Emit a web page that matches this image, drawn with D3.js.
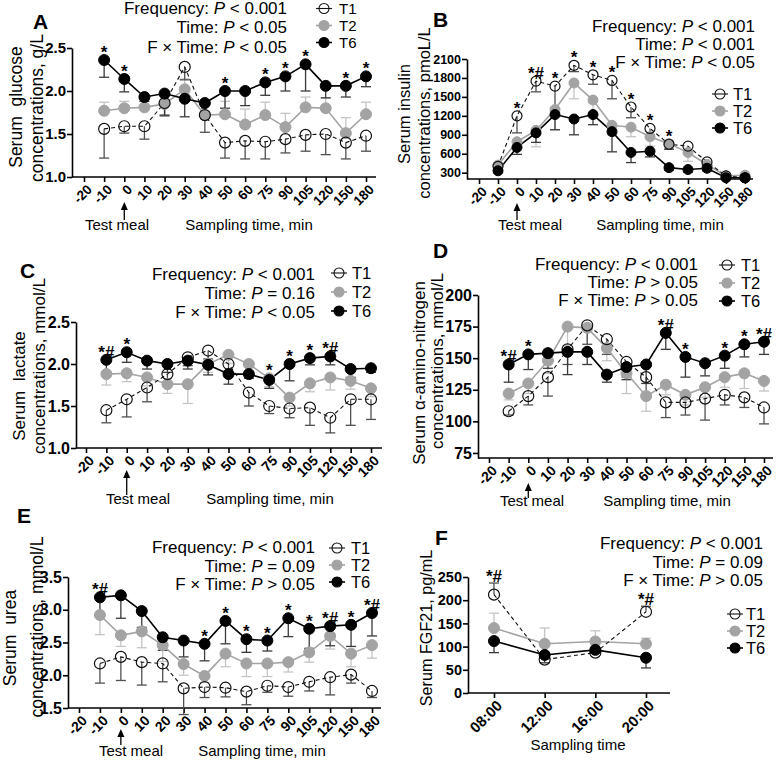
<!DOCTYPE html>
<html><head><meta charset="utf-8">
<script src="https://cdn.jsdelivr.net/npm/d3@7"></script>
<style>
body{margin:0;background:#fff;}
svg{font-family:"Liberation Sans",Arial,sans-serif;}
</style></head><body>
<script>
const FONT = '"Liberation Sans", Arial, sans-serif';
// ---------- categories ----------
const timeCategories = ["-20","-10","0","10","20","30","40","50","60","75","90","105","120","150","180"];
const sampleTimes = ["-10","0","10","20","30","40","50","60","75","90","105","120","150","180"];
const clockTimes = ["08:00","12:00","16:00","20:00"];
const seriesNames = ["T1","T2","T6"];

// ---------- A: glucose (g/L) ----------
const glucoseT1 = [1.56,1.59,1.59,1.86,2.28,1.72,1.40,1.42,1.41,1.44,1.49,1.50,1.40,1.48];
const glucoseT1Err = [0.34,0.08,0.15,0.15,0.15,0.20,0.18,0.21,0.20,0.16,0.19,0.24,0.19,0.18];
const glucoseT2 = [1.77,1.80,1.81,1.85,2.02,1.72,1.73,1.61,1.72,1.58,1.81,1.80,1.51,1.73];
const glucoseT2Err = [0.10,0.08,0.10,0.10,0.12,0.12,0.15,0.18,0.15,0.16,0.12,0.12,0.18,0.14];
const glucoseT6 = [2.36,2.14,1.93,1.97,1.91,1.86,2.00,2.00,2.10,2.17,2.31,2.06,2.06,2.17];
const glucoseT6Err = [0.20,0.15,0.05,0.25,0.21,0.10,0.20,0.17,0.15,0.17,0.31,0.14,0.13,0.12];
const glucoseTicks = [1.0,1.5,2.0,2.5];
const glucoseStars = [["-10","*"],["0","*"],["50","*"],["75","*"],["90","*"],["105","*"],["150","*"],["180","*"]];
const glucoseStats = [["Frequency","<","0.001"],["Time","<","0.05"],["F × Time","<","0.05"]];

// ---------- B: insulin (pmoL/L) ----------
const insulinT1 = [400,1200,1750,1670,2000,1850,1760,1340,1000,750,720,470,250,220];
const insulinT1Err = [50,270,170,380,100,150,290,170,100,80,80,60,30,20];
const insulinT2 = [420,790,970,1300,1720,1450,1050,1020,870,760,620,430,250,260];
const insulinT2Err = [40,100,260,320,250,200,150,150,150,80,140,100,30,20];
const insulinT6 = [330,700,930,1220,1150,1220,950,620,640,380,350,370,220,220];
const insulinT6Err = [30,110,150,240,250,160,320,160,90,40,40,40,20,20];
const insulinTicks = [300,600,900,1200,1500,1800,2100];
const insulinStars = [["0","*"],["10","*#"],["20","*"],["30","*"],["40","*"],["50","*"],["60","*"],["75","*"],["90","*"]];
const insulinStats = [["Frequency","<","0.001"],["Time","<","0.001"],["F × Time","<","0.05"]];

// ---------- C: lactate (mmol/L) ----------
const lactateT1 = [1.45,1.58,1.72,1.88,2.08,2.16,2.00,1.66,1.50,1.47,1.48,1.36,1.58,1.58];
const lactateT1Err = [0.15,0.21,0.17,0.10,0.10,0.10,0.12,0.16,0.09,0.11,0.21,0.18,0.31,0.24];
const lactateT2 = [1.88,1.89,1.84,1.76,1.76,2.00,2.11,2.00,1.83,1.60,1.77,1.84,1.80,1.71];
const lactateT2Err = [0.13,0.10,0.10,0.11,0.23,0.10,0.10,0.10,0.10,0.10,0.10,0.15,0.10,0.10];
const lactateT6 = [2.05,2.14,2.04,2.00,2.04,1.99,1.88,1.88,1.81,2.00,2.07,2.09,1.94,1.95];
const lactateT6Err = [0.15,0.12,0.10,0.10,0.10,0.12,0.12,0.05,0.10,0.20,0.08,0.10,0.10,0.05];
const lactateTicks = [1.0,1.5,2.0,2.5];
const lactateStars = [["-10","*#"],["0","*"],["75","*"],["90","*"],["105","*"],["120","*#"]];
const lactateStats = [["Frequency","<","0.001"],["Time","=","0.16"],["F × Time","<","0.05"]];

// ---------- D: alpha-amino-nitrogen (mmol/L) ----------
const aanT1 = [108,120,135,157,176,165,147,135,115,115,118,121,119,111];
const aanT1Err = [3,7,15,12,15,12,12,15,12,10,17,8,8,13];
const aanT2 = [122,130,148,175,174,158,138,120,129,121,127,135,138,132];
const aanT2Err = [5,8,10,15,20,10,16,12,8,8,8,8,12,8];
const aanT6 = [145,153,154,155,155,137,143,145,170,151,146,152,161,163];
const aanT6Err = [14,12,12,18,10,6,10,15,13,16,10,10,10,10];
const aanTicks = [75,100,125,150,175,200];
const aanStars = [["-10","*#"],["0","*"],["75","*#"],["90","*"],["120","*"],["150","*"],["180","*#"]];
const aanStats = [["Frequency","<","0.001"],["Time",">","0.05"],["F × Time",">","0.05"]];

// ---------- E: urea (mmol/L) ----------
const ureaT1 = [2.18,2.28,2.20,2.18,1.80,1.82,1.81,1.75,1.84,1.82,1.90,1.97,2.01,1.76];
const ureaT1Err = [0.30,0.36,0.35,0.28,0.40,0.16,0.14,0.20,0.10,0.14,0.14,0.27,0.13,0.10];
const ureaT2 = [2.92,2.61,2.67,2.46,2.17,1.99,2.33,2.18,2.18,2.20,2.35,2.60,2.33,2.46];
const ureaT2Err = [0.30,0.17,0.25,0.25,0.17,0.10,0.20,0.20,0.20,0.15,0.15,0.20,0.20,0.20];
const ureaT6 = [3.19,3.22,2.98,2.58,2.53,2.48,2.83,2.55,2.53,2.87,2.71,2.75,2.77,2.95];
const ureaT6Err = [0.30,0.35,0.25,0.20,0.25,0.26,0.35,0.20,0.16,0.28,0.30,0.30,0.33,0.35];
const ureaTicks = [1.5,2.0,2.5,3.0,3.5];
const ureaStars = [["-10","*#"],["40","*"],["50","*"],["60","*"],["75","*"],["90","*"],["105","*"],["120","*#"],["150","*"],["180","*#"]];
const ureaStats = [["Frequency","<","0.001"],["Time","=","0.09"],["F × Time",">","0.05"]];

// ---------- F: FGF21 (pg/mL) ----------
const fgfT1 = [212,72,87,175];
const fgfT1Err = [25,8,6,12];
const fgfT2 = [140,106,111,106];
const fgfT2Err = [32,34,23,12];
const fgfT6 = [112,82,93,76];
const fgfT6Err = [25,17,5,22];
const fgfTicks = [0,50,100,150,200,250];
const fgfStars = [["08:00","*#"],["20:00","*#"]];
const fgfStats = [["Frequency","<","0.001"],["Time","=","0.09"],["F × Time",">","0.05"]];

// ---------- styles ----------
const seriesStyle = [
  {stroke:"#111", fill:"none", lineW:1.1, dash:"4,3", errC:"#505050"},
  {stroke:"#a3a3a3", fill:"#a3a3a3", lineW:1.6, dash:null, errC:"#c4c4c4"},
  {stroke:"#000", fill:"#000", lineW:1.6, dash:null, errC:"#3a3a3a"}
];

const panels = [
  {letter:"A", lp:[33,29], cats:timeCategories, pts:sampleTimes, dom:[1.0,2.5], ticks:glucoseTicks, fmt:".1f",
   b:{ax:72, x0:84, x1:366, xe:376, yt:48, yb:177}, vals:[glucoseT1,glucoseT2,glucoseT6], errs:[glucoseT1Err,glucoseT2Err,glucoseT6Err], dir:[-1,1,-1],
   stars:glucoseStars, stats:glucoseStats, sx:287, sy:[14,33,53], lg:{x:324, tx:339, ys:[8.5,25.5,42.5], fs:15},
   yl:["Serum  glucose","concentrations, g/L"], ylx:[22,43], yly:[107,108], yls:17.5, yts:15, xts:13.5,
   meal:[117,230], samp:[249,230], samplingText:"Sampling time, min", arrow:[220,202], r:5.5},
  {letter:"B", lp:[433,27], cats:timeCategories, pts:sampleTimes, dom:[200,2100], ticks:insulinTicks, fmt:"d",
   b:{ax:467, x0:479, x1:745, xe:753, yt:59, yb:179}, vals:[insulinT1,insulinT2,insulinT6], errs:[insulinT1Err,insulinT2Err,insulinT6Err], dir:[-1,-1,-1],
   stars:insulinStars, stats:insulinStats, sx:755, sy:[32,50,68], lg:{x:720, tx:733, ys:[94,111,128], fs:16.5},
   yl:["Serum insulin","concentrations, pmoL/L"], ylx:[410,430], yly:[114,113], yls:16.5, yts:12.5, xts:13.5,
   meal:[530,230], samp:[660,230], samplingText:"Sampling time, min", arrow:[220,203], r:5},
  {letter:"C", lp:[20,278], cats:timeCategories, pts:sampleTimes, dom:[1.0,2.5], ticks:lactateTicks, fmt:".1f",
   b:{ax:76, x0:86, x1:371, xe:382, yt:322, yb:448}, vals:[lactateT1,lactateT2,lactateT6], errs:[lactateT1Err,lactateT2Err,lactateT6Err], dir:[-1,-1,-1],
   stars:lactateStars, stats:lactateStats, sx:315, sy:[280,299,318], lg:{x:339, tx:352, ys:[273,292,311], fs:16.5},
   yl:["Serum  lactate","concentrations, mmol/L"], ylx:[25,45], yly:[386,366], yls:17, yts:16, xts:14,
   meal:[138,504], samp:[270,504], samplingText:"Sampling time, min", arrow:[495,470], r:5.5},
  {letter:"D", lp:[433,258], cats:timeCategories, pts:sampleTimes, dom:[71,200], ticks:aanTicks, fmt:"d",
   b:{ax:478, x0:489, x1:764, xe:773, yt:295, yb:458}, vals:[aanT1,aanT2,aanT6], errs:[aanT1Err,aanT2Err,aanT6Err], dir:[-1,-1,-1],
   stars:aanStars, stats:aanStats, sx:698, sy:[270,288,306], lg:{x:727, tx:741, ys:[265,283,301], fs:16.5},
   yl:["Serum α-amino-nitrogen","concentrations, mmol/L"], ylx:[425,443], yly:[373,361], yls:17, yts:16, xts:14,
   meal:[532,506], samp:[667,506], samplingText:"Sampling time, min", arrow:[498,483], r:5.5},
  {letter:"E", lp:[17,523], cats:timeCategories, pts:sampleTimes, dom:[1.5,3.5], ticks:ureaTicks, fmt:".1f",
   b:{ax:68, x0:79, x1:372, xe:381, yt:577, yb:708}, vals:[ureaT1,ureaT2,ureaT6], errs:[ureaT1Err,ureaT2Err,ureaT6Err], dir:[-1,-1,-1],
   stars:ureaStars, stats:ureaStats, sx:315, sy:[553,572,590], lg:{x:337, tx:351, ys:[548,565,582], fs:16.5},
   yl:["Serum  urea","concentrations, mmol/L"], ylx:[16,43], yly:[638,627], yls:17.5, yts:16, xts:14,
   meal:[131,756], samp:[262,756], samplingText:"Sampling time, min", arrow:[745,729], r:5.5},
  {letter:"F", lp:[435,545], cats:clockTimes, pts:clockTimes, dom:[0,250], ticks:fgfTicks, fmt:"d",
   b:{ax:468, x0:494, x1:646, xe:670, yt:577, yb:693}, vals:[fgfT1,fgfT2,fgfT6], errs:[fgfT1Err,fgfT2Err,fgfT6Err], dir:[1,1,-1],
   stars:fgfStars, stats:fgfStats, sx:763, sy:[549,568,586], lg:{x:735, tx:746, ys:[614,631,648], fs:16.5},
   yl:["Serum FGF21, pg/mL"], ylx:[432], yly:[628], yls:16.2, yts:14.5, xts:15,
   meal:null, samp:[578,750], samplingText:"Sampling time", arrow:null, r:5.5}
];

const svg = d3.select("body").append("svg").attr("width",778).attr("height",762)
  .attr("font-family",FONT);

function drawPanel(p){
  const g = svg.append("g");
  const x = d3.scalePoint().domain(p.cats).range([p.b.x0, p.b.x1]);
  const y = d3.scaleLinear().domain(p.dom).range([p.b.yb, p.b.yt]);

  // y axis
  const ya = g.append("g").attr("transform",`translate(${p.b.ax},0)`)
    .call(d3.axisLeft(y).tickValues(p.ticks).tickFormat(d3.format(p.fmt)).tickSize(5).tickSizeOuter(0).tickPadding(1))
    .attr("font-family",null).attr("font-size",null);
  ya.select(".domain").attr("stroke","#000").attr("stroke-width",1.6);
  ya.selectAll(".tick line").attr("stroke","#000").attr("stroke-width",1.6);
  ya.selectAll(".tick text").attr("font-size",p.yts).attr("font-weight","bold").attr("fill","#000");

  // x axis
  const xa = g.append("g").attr("transform",`translate(0,${p.b.yb})`)
    .call(d3.axisBottom(x).tickSize(5).tickSizeOuter(0))
    .attr("font-family",null).attr("font-size",null);
  xa.select(".domain").remove();
  xa.append("line").attr("x1",p.b.ax).attr("x2",p.b.xe).attr("stroke","#000").attr("stroke-width",1.6);
  xa.selectAll(".tick line").attr("stroke","#000").attr("stroke-width",1.6);
  xa.selectAll(".tick text").attr("y",0).attr("dy","0.35em").attr("text-anchor","end")
    .attr("transform","translate(5,10) rotate(-45)")
    .attr("font-size",p.xts).attr("font-weight","bold").attr("fill","#000");

  // series data
  const series = p.vals.map((vals,k)=>vals.map((v,i)=>({t:p.pts[i], v, e:p.errs[k][i], d:p.dir[k]})));
  const order = [1,0,2];

  // error bars
  order.forEach(k=>{
    const st = seriesStyle[k];
    const eg = g.append("g").attr("stroke",st.errC).attr("stroke-width",1.3);
    series[k].forEach(d=>{
      const y0 = y(d.v), y1 = y(d.v + d.d*d.e), cx = x(d.t);
      eg.append("line").attr("x1",cx).attr("x2",cx).attr("y1",y0).attr("y2",y1);
      eg.append("line").attr("x1",cx-5).attr("x2",cx+5).attr("y1",y1).attr("y2",y1);
    });
  });
  // lines
  const line = d3.line().x(d=>x(d.t)).y(d=>y(d.v));
  order.forEach(k=>{
    const st = seriesStyle[k];
    g.append("path").datum(series[k]).attr("d",line).attr("fill","none")
      .attr("stroke",st.stroke).attr("stroke-width",st.lineW).attr("stroke-dasharray",st.dash);
  });
  // markers
  order.forEach(k=>{
    const st = seriesStyle[k];
    g.append("g").selectAll("circle").data(series[k]).join("circle")
      .attr("cx",d=>x(d.t)).attr("cy",d=>y(d.v)).attr("r",p.r)
      .attr("fill",st.fill).attr("stroke",k===0?"#111":st.stroke).attr("stroke-width",k===0?1.2:1);
  });

  // stars
  p.stars.forEach(([t,lab])=>{
    let top = Infinity;
    series.forEach(s=>{
      const d = s.find(q=>q.t===t);
      top = Math.min(top, y(d.v)-2);
      if (d.d>0) top = Math.min(top, y(d.v+d.e)-1);
    });
    g.append("text").attr("x",x(t)).attr("y",top).attr("text-anchor","middle")
      .attr("font-size",17).attr("font-weight","bold").attr("fill","#000").text(lab);
  });

  // stats
  p.stats.forEach(([lab,op,val],i)=>{
    const t = g.append("text").attr("x",p.sx).attr("y",p.sy[i]).attr("text-anchor","end").attr("font-size",17).attr("fill","#000");
    t.append("tspan").text(lab+": ");
    t.append("tspan").attr("font-style","italic").text("P");
    t.append("tspan").text(" "+op+" "+val);
  });

  // legend
  seriesNames.forEach((nm,k)=>{
    const st = seriesStyle[k];
    const ly = p.lg.ys[k];
    g.append("line").attr("x1",p.lg.x-8).attr("x2",p.lg.x+8).attr("y1",ly).attr("y2",ly)
      .attr("stroke",k===0?"#111":st.stroke).attr("stroke-width",k===0?1.1:1.6);
    g.append("circle").attr("cx",p.lg.x).attr("cy",ly).attr("r",5)
      .attr("fill",k===0?"#fff":st.fill).attr("fill-opacity",k===0?0:1).attr("stroke",k===0?"#111":st.stroke).attr("stroke-width",1.1);
    g.append("text").attr("x",p.lg.tx).attr("y",ly).attr("dy","0.36em").attr("font-size",p.lg.fs).attr("fill","#000").text(nm);
  });

  // panel letter
  g.append("text").attr("x",p.lp[0]).attr("y",p.lp[1]).attr("font-size",21).attr("font-weight","bold").attr("fill","#000").text(p.letter);

  // y label
  p.yl.forEach((line,i)=>{
    g.append("text").attr("transform",`translate(${p.ylx[i]},${p.yly[i]}) rotate(-90)`)
      .attr("text-anchor","middle").attr("font-size",p.yls).attr("fill","#000").style("white-space","pre").text(line);
  });

  // x titles
  if (p.meal){
    g.append("text").attr("x",p.meal[0]).attr("y",p.meal[1]).attr("text-anchor","middle").attr("font-size",15).attr("fill","#000").text("Test meal");
  }
  g.append("text").attr("x",p.samp[0]).attr("y",p.samp[1]).attr("text-anchor","middle").attr("font-size",15).attr("fill","#000").text(p.samplingText);
  if (p.arrow){
    const ax = x("0");
    g.append("line").attr("x1",ax).attr("x2",ax).attr("y1",p.arrow[0]).attr("y2",p.arrow[1]+6).attr("stroke","#000").attr("stroke-width",1.3);
    g.append("path").attr("d",`M${ax},${p.arrow[1]} L${ax-3.5},${p.arrow[1]+8} L${ax+3.5},${p.arrow[1]+8} Z`).attr("fill","#000");
  }
}

panels.forEach(drawPanel);
</script>
</body></html>
